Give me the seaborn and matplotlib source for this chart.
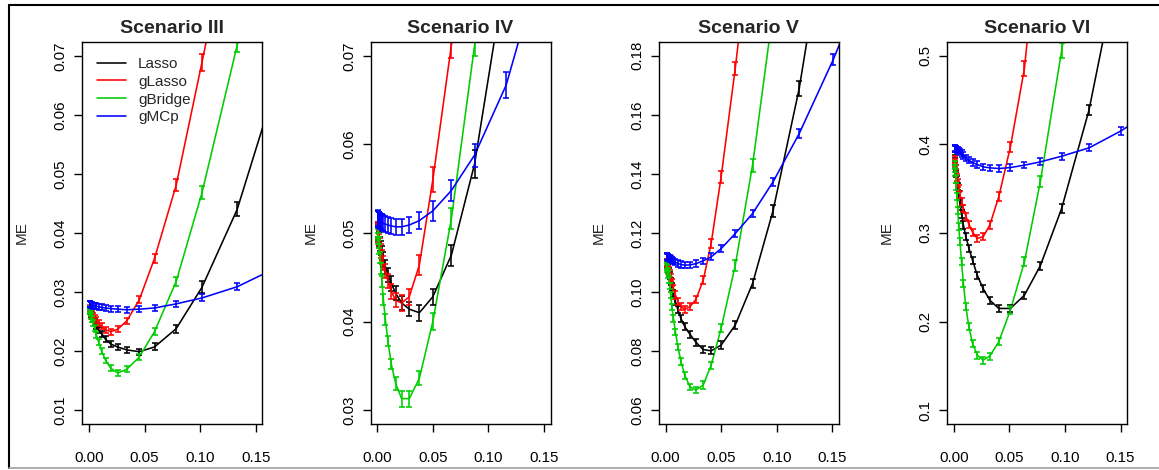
import matplotlib
matplotlib.use("Agg")
import matplotlib.pyplot as plt
import numpy as np
import pandas as pd
import seaborn as sns
from matplotlib.lines import Line2D

# ---------------------------------------------------------------- data
methods = ["Lasso", "gLasso", "gBridge", "gMCp"]
colors = ["#000000", "#FF0000", "#00CD00", "#0000FF"]
titles = ["Scenario III", "Scenario IV", "Scenario V", "Scenario VI"]

x_ticks = [0.00, 0.05, 0.10, 0.15]
x_ticklabels = ["0.00", "0.05", "0.10", "0.15"]

# Scenario III
lam_iii = [0.1730, 0.1334, 0.1017, 0.0785, 0.0590, 0.0453, 0.0340, 0.0258, 0.0196, 0.0150, 0.0114,
           0.0087, 0.0066, 0.0050, 0.0038, 0.0029, 0.0022, 0.0017, 0.0013, 0.0010, 0.0008, 0.0006]
lasso_iii = [0.0680, 0.0440, 0.0308, 0.0238, 0.0207, 0.0199, 0.0202, 0.0207, 0.0212, 0.0220, 0.0229,
             0.0236, 0.0243, 0.0249, 0.0254, 0.0259, 0.0263, 0.0266, 0.0268, 0.0270, 0.0271, 0.0272]
glasso_iii = [0.1360, 0.0980, 0.0689, 0.0481, 0.0357, 0.0287, 0.0251, 0.0237, 0.0233, 0.0236, 0.0242,
              0.0247, 0.0252, 0.0256, 0.0260, 0.0263, 0.0266, 0.0268, 0.0270, 0.0271, 0.0272, 0.0273]
gbridge_iii = [0.1030, 0.0718, 0.0468, 0.0318, 0.0233, 0.0190, 0.0169, 0.0163, 0.0171, 0.0184, 0.0200,
               0.0215, 0.0228, 0.0239, 0.0248, 0.0255, 0.0260, 0.0264, 0.0267, 0.0269, 0.0270, 0.0271]
gmcp_iii = [0.0345, 0.0309, 0.0290, 0.0280, 0.0273, 0.0271, 0.0270, 0.0271, 0.0272, 0.0273, 0.0274,
            0.0275, 0.0276, 0.0277, 0.0277, 0.0278, 0.0278, 0.0278, 0.0279, 0.0279, 0.0279, 0.0279]
se_lasso_iii = [0.0014, 0.0012, 0.0010, 0.0007, 0.0006, 0.0005, 0.0005, 0.0005, 0.0005, 0.0005, 0.0005,
                0.0005, 0.0005, 0.0005, 0.0005, 0.0005, 0.0005, 0.0005, 0.0005, 0.0005, 0.0005, 0.0005]
se_glasso_iii = [0.0018, 0.0016, 0.0014, 0.0010, 0.0008, 0.0006, 0.0005, 0.0005, 0.0005, 0.0005, 0.0005,
                 0.0005, 0.0005, 0.0005, 0.0005, 0.0005, 0.0005, 0.0005, 0.0005, 0.0005, 0.0005, 0.0005]
se_gbridge_iii = [0.0014, 0.0012, 0.0011, 0.0008, 0.0006, 0.0005, 0.0005, 0.0005, 0.0005, 0.0005, 0.0005,
                  0.0005, 0.0005, 0.0005, 0.0005, 0.0005, 0.0005, 0.0005, 0.0005, 0.0005, 0.0005, 0.0005]
se_gmcp_iii = [0.0006, 0.0006, 0.0006, 0.0005, 0.0005, 0.0005, 0.0005, 0.0005, 0.0005, 0.0005, 0.0005,
               0.0005, 0.0005, 0.0005, 0.0005, 0.0005, 0.0005, 0.0005, 0.0005, 0.0005, 0.0005, 0.0005]

# Scenario IV
lam_iv = [0.1520, 0.1160, 0.0876, 0.0667, 0.0500, 0.0379, 0.0288, 0.0219, 0.0166, 0.0126, 0.0096,
          0.0073, 0.0055, 0.0042, 0.0032, 0.0024, 0.0018, 0.0014, 0.0011, 0.0008, 0.0006, 0.0005]
lasso_iv = [0.1100, 0.0800, 0.0578, 0.0475, 0.0428, 0.0410, 0.0414, 0.0421, 0.0432, 0.0443, 0.0453,
            0.0462, 0.0470, 0.0477, 0.0483, 0.0488, 0.0493, 0.0496, 0.0499, 0.0501, 0.0503, 0.0504]
glasso_iv = [0.1550, 0.1200, 0.0900, 0.0712, 0.0560, 0.0464, 0.0428, 0.0421, 0.0424, 0.0434, 0.0446,
             0.0457, 0.0466, 0.0473, 0.0480, 0.0486, 0.0491, 0.0495, 0.0498, 0.0501, 0.0503, 0.0504]
gbridge_iv = [0.1250, 0.0950, 0.0712, 0.0516, 0.0400, 0.0336, 0.0313, 0.0313, 0.0330, 0.0352, 0.0378,
              0.0402, 0.0425, 0.0445, 0.0460, 0.0472, 0.0482, 0.0489, 0.0494, 0.0498, 0.0500, 0.0502]
gmcp_iv = [0.0825, 0.0667, 0.0588, 0.0548, 0.0525, 0.0514, 0.0509, 0.0507, 0.0507, 0.0508, 0.0509,
           0.0510, 0.0511, 0.0512, 0.0513, 0.0514, 0.0515, 0.0515, 0.0516, 0.0516, 0.0516, 0.0517]
se_lasso_iv = [0.0020, 0.0018, 0.0016, 0.0012, 0.0009, 0.0009, 0.0008, 0.0008, 0.0008, 0.0008, 0.0008,
               0.0008, 0.0008, 0.0008, 0.0008, 0.0008, 0.0008, 0.0008, 0.0008, 0.0008, 0.0008, 0.0008]
se_glasso_iv = [0.0020, 0.0018, 0.0016, 0.0014, 0.0014, 0.0011, 0.0009, 0.0009, 0.0008, 0.0008, 0.0008,
                0.0008, 0.0008, 0.0008, 0.0008, 0.0008, 0.0008, 0.0008, 0.0008, 0.0008, 0.0008, 0.0008]
se_gbridge_iv = [0.0015, 0.0014, 0.0012, 0.0012, 0.0010, 0.0008, 0.0009, 0.0009, 0.0007, 0.0006, 0.0006,
                 0.0006, 0.0006, 0.0006, 0.0006, 0.0006, 0.0006, 0.0006, 0.0006, 0.0006, 0.0006, 0.0006]
se_gmcp_iv = [0.0016, 0.0015, 0.0013, 0.0012, 0.0011, 0.0010, 0.0009, 0.0009, 0.0009, 0.0009, 0.0009,
              0.0009, 0.0009, 0.0009, 0.0009, 0.0009, 0.0009, 0.0009, 0.0009, 0.0009, 0.0009, 0.0009]

# Scenario V
lam_v = [0.1890, 0.1510, 0.1203, 0.0967, 0.0783, 0.0627, 0.0500, 0.0410, 0.0339, 0.0273, 0.0219,
         0.0174, 0.0139, 0.0111, 0.0089, 0.0071, 0.0057, 0.0046, 0.0036, 0.0029, 0.0023, 0.0018,
         0.0014, 0.0011, 0.0009]
lasso_v = [0.3200, 0.2400, 0.1690, 0.1275, 0.1029, 0.0888, 0.0820, 0.0801, 0.0805, 0.0830, 0.0857,
           0.0882, 0.0910, 0.0940, 0.0968, 0.0995, 0.1017, 0.1037, 0.1055, 0.1068, 0.1078, 0.1086,
           0.1092, 0.1096, 0.1099]
glasso_v = [0.5500, 0.4400, 0.3500, 0.2800, 0.2260, 0.1757, 0.1390, 0.1164, 0.1040, 0.0975, 0.0950,
            0.0942, 0.0950, 0.0968, 0.0990, 0.1012, 0.1032, 0.1048, 0.1062, 0.1073, 0.1081, 0.1088,
            0.1093, 0.1097, 0.1100]
gbridge_v = [0.4000, 0.3200, 0.2500, 0.1950, 0.1430, 0.1090, 0.0877, 0.0752, 0.0685, 0.0668, 0.0679,
             0.0718, 0.0764, 0.0814, 0.0865, 0.0910, 0.0950, 0.0990, 0.1020, 0.1043, 0.1060, 0.1072,
             0.1080, 0.1086, 0.1090]
gmcp_v = [0.2140, 0.1788, 0.1537, 0.1373, 0.1266, 0.1198, 0.1147, 0.1119, 0.1106, 0.1096, 0.1092,
          0.1091, 0.1093, 0.1097, 0.1101, 0.1105, 0.1109, 0.1112, 0.1114, 0.1116, 0.1117, 0.1118,
          0.1119, 0.1120, 0.1120]
se_lasso_v = [0.0030, 0.0028, 0.0025, 0.0020, 0.0016, 0.0014, 0.0013, 0.0012, 0.0012, 0.0012, 0.0012,
              0.0012, 0.0012, 0.0012, 0.0012, 0.0012, 0.0012, 0.0012, 0.0012, 0.0012, 0.0012, 0.0012,
              0.0012, 0.0012, 0.0012]
se_glasso_v = [0.0030, 0.0030, 0.0030, 0.0030, 0.0028, 0.0022, 0.0020, 0.0016, 0.0014, 0.0013, 0.0012,
               0.0012, 0.0012, 0.0012, 0.0012, 0.0012, 0.0012, 0.0012, 0.0012, 0.0012, 0.0012, 0.0012,
               0.0012, 0.0012, 0.0012]
se_gbridge_v = [0.0030, 0.0030, 0.0028, 0.0026, 0.0022, 0.0018, 0.0014, 0.0012, 0.0012, 0.0011, 0.0011,
                0.0011, 0.0011, 0.0011, 0.0011, 0.0011, 0.0011, 0.0011, 0.0011, 0.0011, 0.0011, 0.0011,
                0.0011, 0.0011, 0.0011]
se_gmcp_v = [0.0020, 0.0018, 0.0015, 0.0014, 0.0013, 0.0012, 0.0012, 0.0012, 0.0011, 0.0011, 0.0011,
             0.0011, 0.0011, 0.0011, 0.0011, 0.0011, 0.0011, 0.0011, 0.0011, 0.0011, 0.0011, 0.0011,
             0.0011, 0.0011, 0.0011]

# Scenario VI
lam_vi = [0.1875, 0.1500, 0.1216, 0.0970, 0.0778, 0.0635, 0.0509, 0.0404, 0.0323, 0.0263, 0.0210,
          0.0168, 0.0135, 0.0108, 0.0086, 0.0069, 0.0055, 0.0044, 0.0035, 0.0028, 0.0022, 0.0018,
          0.0014, 0.0011, 0.0009]
lasso_vi = [0.8000, 0.6150, 0.4387, 0.3277, 0.2630, 0.2298, 0.2148, 0.2148, 0.2242, 0.2373, 0.2524,
            0.2693, 0.2830, 0.2960, 0.3090, 0.3215, 0.3330, 0.3430, 0.3520, 0.3600, 0.3670, 0.3725,
            0.3770, 0.3810, 0.3840]
glasso_vi = [1.9000, 1.5000, 1.2000, 0.9000, 0.6640, 0.4857, 0.3973, 0.3408, 0.3088, 0.2957, 0.2938,
             0.3010, 0.3100, 0.3190, 0.3280, 0.3355, 0.3430, 0.3500, 0.3565, 0.3625, 0.3680, 0.3730,
             0.3770, 0.3800, 0.3830]
gbridge_vi = [1.2000, 0.9500, 0.7000, 0.5060, 0.3578, 0.2675, 0.2129, 0.1771, 0.1610, 0.1565, 0.1621,
              0.1753, 0.1940, 0.2167, 0.2430, 0.2675, 0.2900, 0.3070, 0.3258, 0.3410, 0.3520, 0.3610,
              0.3680, 0.3730, 0.3770]
gmcp_vi = [0.4450, 0.4150, 0.3961, 0.3867, 0.3803, 0.3766, 0.3739, 0.3728, 0.3736, 0.3747, 0.3773,
           0.3796, 0.3822, 0.3849, 0.3875, 0.3897, 0.3912, 0.3924, 0.3933, 0.3940, 0.3945, 0.3949,
           0.3952, 0.3954, 0.3956]
se_lasso_vi = [0.0080, 0.0070, 0.0060, 0.0050, 0.0045, 0.0040, 0.0040, 0.0040, 0.0040, 0.0040, 0.0040,
               0.0040, 0.0040, 0.0040, 0.0040, 0.0040, 0.0040, 0.0040, 0.0040, 0.0040, 0.0040, 0.0040,
               0.0040, 0.0040, 0.0040]
se_glasso_vi = [0.0100, 0.0100, 0.0100, 0.0090, 0.0090, 0.0080, 0.0060, 0.0050, 0.0045, 0.0040, 0.0040,
                0.0040, 0.0040, 0.0040, 0.0040, 0.0040, 0.0040, 0.0040, 0.0040, 0.0040, 0.0040, 0.0040,
                0.0040, 0.0040, 0.0040]
se_gbridge_vi = [0.0090, 0.0090, 0.0090, 0.0080, 0.0060, 0.0050, 0.0045, 0.0040, 0.0040, 0.0040, 0.0040,
                 0.0040, 0.0040, 0.0040, 0.0040, 0.0040, 0.0040, 0.0040, 0.0040, 0.0040, 0.0040, 0.0040,
                 0.0040, 0.0040, 0.0040]
se_gmcp_vi = [0.0050, 0.0045, 0.0040, 0.0040, 0.0040, 0.0035, 0.0035, 0.0035, 0.0035, 0.0035, 0.0035,
              0.0035, 0.0035, 0.0035, 0.0035, 0.0035, 0.0035, 0.0035, 0.0035, 0.0035, 0.0035, 0.0035,
              0.0035, 0.0035, 0.0035]

y_ticks_iii = [0.01, 0.02, 0.03, 0.04, 0.05, 0.06, 0.07]
y_ticks_iv = [0.03, 0.04, 0.05, 0.06, 0.07]
y_ticks_v = [0.06, 0.08, 0.10, 0.12, 0.14, 0.16, 0.18]
y_ticks_vi = [0.1, 0.2, 0.3, 0.4, 0.5]
y_labels_iii = ["0.01", "0.02", "0.03", "0.04", "0.05", "0.06", "0.07"]
y_labels_iv = ["0.03", "0.04", "0.05", "0.06", "0.07"]
y_labels_v = ["0.06", "0.08", "0.10", "0.12", "0.14", "0.16", "0.18"]
y_labels_vi = ["0.1", "0.2", "0.3", "0.4", "0.5"]

panels = [
    (lam_iii, [lasso_iii, glasso_iii, gbridge_iii, gmcp_iii],
     [se_lasso_iii, se_glasso_iii, se_gbridge_iii, se_gmcp_iii], y_ticks_iii, y_labels_iii),
    (lam_iv, [lasso_iv, glasso_iv, gbridge_iv, gmcp_iv],
     [se_lasso_iv, se_glasso_iv, se_gbridge_iv, se_gmcp_iv], y_ticks_iv, y_labels_iv),
    (lam_v, [lasso_v, glasso_v, gbridge_v, gmcp_v],
     [se_lasso_v, se_glasso_v, se_gbridge_v, se_gmcp_v], y_ticks_v, y_labels_v),
    (lam_vi, [lasso_vi, glasso_vi, gbridge_vi, gmcp_vi],
     [se_lasso_vi, se_glasso_vi, se_gbridge_vi, se_gmcp_vi], y_ticks_vi, y_labels_vi),
]

# ---------------------------------------------------------------- style
sns.set_style("ticks")
plt.rcParams["font.family"] = ["Liberation Sans", "DejaVu Sans"]
plt.rcParams["axes.linewidth"] = 1.0
plt.rcParams["axes.edgecolor"] = "black"

W, H = 1159, 470
fig = plt.figure(figsize=(W / 100, H / 100), dpi=100)
palette = dict(zip(methods, colors))

ax_w = 180 / W
ax_b = (H - 424.3) / H
ax_h = (424.3 - 41.7) / H
lw = 1.15

for i, (lam, series, ses, yt, ytl) in enumerate(panels):
    left = (82.3 + 288.3 * i) / W
    ax = fig.add_axes([left, ax_b, ax_w, ax_h])

    df = pd.concat(
        [pd.DataFrame({"lam": lam, "ME": vals, "se": se, "method": m})
         for m, vals, se in zip(methods, series, ses)],
        ignore_index=True,
    )
    sns.lineplot(data=df, x="lam", y="ME", hue="method", hue_order=methods,
                 palette=palette, estimator=None, errorbar=None, sort=True,
                 linewidth=lw, legend=False, ax=ax)
    for m in methods:
        sub = df[df["method"] == m]
        ax.errorbar(sub["lam"], sub["ME"], yerr=sub["se"], fmt="none",
                    ecolor=palette[m], elinewidth=lw, capsize=2.3, capthick=lw)

    lo, hi = yt[0], yt[-1]
    ext = 0.04 * (hi - lo)
    ax.set_ylim(lo - ext, hi + ext)
    ax.set_xlim(-0.006, 0.156)

    ax.set_xticks(x_ticks)
    ax.set_xticklabels(x_ticklabels)
    ax.set_yticks(yt)
    ax.set_yticklabels(ytl, rotation=90, va="center")
    ax.tick_params(axis="both", direction="out", length=6, width=1.0,
                   labelsize=10.8, colors="black")
    ax.tick_params(axis="x", pad=13)
    ax.tick_params(axis="y", pad=4.5)

    for sp in ax.spines.values():
        sp.set_visible(True)
        sp.set_linewidth(1.0)
        sp.set_color("black")

    ax.set_xlabel("")
    ax.set_ylabel("ME", fontsize=11)
    ax.yaxis.label.set_va("center")
    ax.yaxis.set_label_coords(-0.335, 0.5)

    ax.text(0.5, 1 + 8.4 / 382.6, titles[i], transform=ax.transAxes,
            ha="center", va="baseline", fontsize=14, fontweight="bold")

    if i == 0:
        handles = [Line2D([], [], color=c, lw=lw) for c in colors]
        ax.legend(handles, methods, loc="upper left", bbox_to_anchor=(0.08, 0.960),
                  frameon=False, fontsize=11, handlelength=1.9, handletextpad=0.8,
                  labelspacing=0.25, borderpad=0, borderaxespad=0)

# outer frame of the figure
fig.add_artist(Line2D([8.5 / W, 8.5 / W], [1 - 4.5 / H, 1 - 468 / H], color="black",
                      lw=1.5, transform=fig.transFigure))
fig.add_artist(Line2D([8.5 / W, 1], [1 - 4.5 / H, 1 - 4.5 / H], color="black",
                      lw=1.5, transform=fig.transFigure))
fig.add_artist(Line2D([8.5 / W, 1], [1 - 468 / H, 1 - 468 / H], color="#a0a0a0",
                      lw=1.2, transform=fig.transFigure))

fig.savefig("out.png", dpi=100)
